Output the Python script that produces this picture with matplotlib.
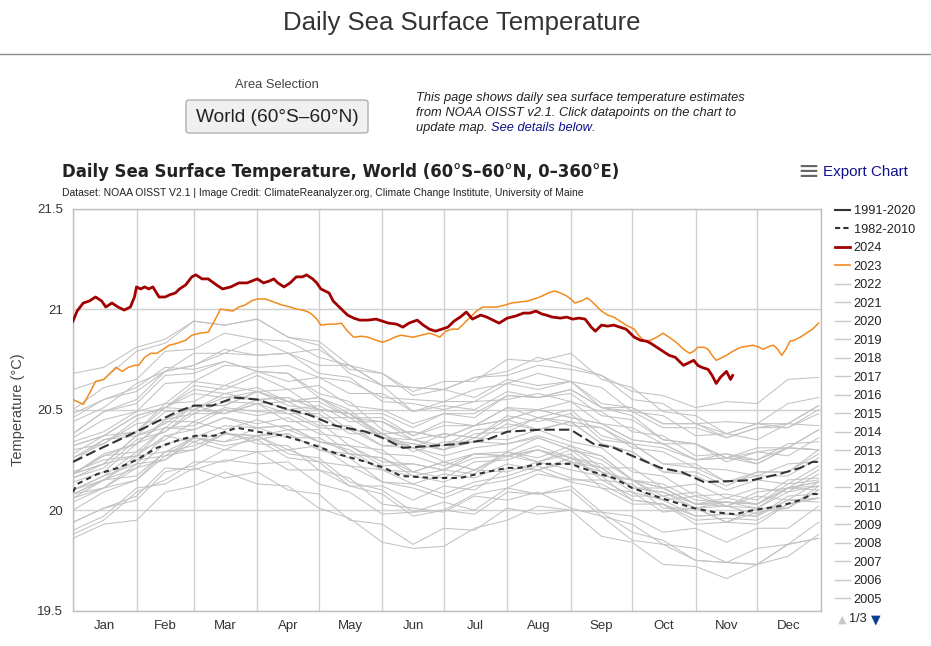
import numpy as np
import matplotlib
matplotlib.use("Agg")
import matplotlib.pyplot as plt
from matplotlib.lines import Line2D
from matplotlib.patches import FancyBboxPatch

plt.rcParams["font.family"] = ["Liberation Sans", "DejaVu Sans"]

W, H = 931, 646

# ---- data (degC) ----
month_names = ["Jan", "Feb", "Mar", "Apr", "May", "Jun",
               "Jul", "Aug", "Sep", "Oct", "Nov", "Dec"]
month_starts = [0, 31, 59, 90, 120, 151, 181, 212, 243, 273, 304, 334, 365]

days_9120 = [0, 12, 31, 51, 59, 68, 79, 90, 102, 115, 128, 143, 151, 161, 176, 189,
             202, 212, 228, 243, 254, 264, 273, 287, 297, 308, 323, 332, 345, 355, 361, 364]
clim_9120 = [20.24, 20.30, 20.39, 20.49, 20.52, 20.52, 20.56, 20.55, 20.51, 20.475, 20.42,
             20.39, 20.36, 20.31, 20.32, 20.33, 20.35, 20.39, 20.40, 20.40, 20.33, 20.31,
             20.27, 20.21, 20.19, 20.14, 20.145, 20.15, 20.18, 20.21, 20.24, 20.24]

days_8210 = [0, 2, 12, 22, 31, 41, 52, 60, 69, 80, 90, 103, 116, 129, 143, 152, 160, 176, 189,
             202, 212, 218, 228, 243, 254, 264, 273, 287, 303, 313, 323, 332, 345, 355, 361, 364]
clim_8210 = [20.09, 20.13, 20.18, 20.21, 20.25, 20.31, 20.35, 20.37, 20.37, 20.41, 20.39,
             20.37, 20.33, 20.28, 20.24, 20.21, 20.17, 20.16, 20.16, 20.19, 20.21, 20.21,
             20.23, 20.23, 20.19, 20.16, 20.11, 20.06, 20.01, 19.99, 19.98, 20.00, 20.02,
             20.05, 20.08, 20.08]

days_2024 = [0, 2, 5, 8, 11, 14, 16, 19, 22, 25, 28, 30, 31, 33, 35, 37, 39, 42, 45, 47, 50,
             52, 55, 58, 60, 63, 66, 70, 73, 77, 81, 85, 90, 93, 96, 98, 100, 103, 106, 109,
             112, 114, 117, 119, 121, 125, 127, 130, 134, 137, 140, 144, 148, 151, 154, 158,
             161, 164, 168, 171, 174, 177, 180, 183, 186, 189, 192, 195, 199, 202, 205, 208,
             212, 216, 220, 223, 226, 229, 231, 234, 238, 241, 244, 247, 250, 253, 255, 258,
             261, 264, 267, 270, 274, 277, 280, 282, 285, 288, 291, 294, 296, 298, 300, 303,
             305, 307, 310, 312, 314, 316, 319, 321, 322]
sst_2024 = [20.94, 20.99, 21.03, 21.04, 21.06, 21.04, 21.01, 21.03, 21.01, 20.995, 21.01,
            21.06, 21.11, 21.10, 21.11, 21.10, 21.11, 21.06, 21.06, 21.07, 21.08, 21.10,
            21.12, 21.16, 21.17, 21.15, 21.15, 21.12, 21.10, 21.11, 21.13, 21.13, 21.15,
            21.13, 21.14, 21.15, 21.13, 21.11, 21.13, 21.16, 21.16, 21.17, 21.15, 21.13,
            21.10, 21.08, 21.04, 21.01, 20.97, 20.955, 20.945, 20.945, 20.95, 20.94, 20.93,
            20.925, 20.91, 20.93, 20.945, 20.92, 20.90, 20.89, 20.90, 20.91, 20.94, 20.96,
            20.985, 20.95, 20.97, 20.96, 20.945, 20.93, 20.955, 20.965, 20.98, 20.98, 20.99,
            20.975, 20.97, 20.96, 20.955, 20.96, 20.95, 20.955, 20.95, 20.91, 20.89, 20.92,
            20.915, 20.92, 20.91, 20.90, 20.86, 20.845, 20.84, 20.83, 20.81, 20.79, 20.77,
            20.76, 20.74, 20.72, 20.73, 20.745, 20.72, 20.71, 20.70, 20.67, 20.63, 20.66,
            20.69, 20.65, 20.67]

days_2023 = [0, 3, 5, 8, 11, 15, 18, 21, 24, 27, 30, 32, 35, 38, 41, 44, 47, 51, 55, 58, 62,
             66, 69, 72, 75, 78, 81, 84, 87, 90, 94, 98, 102, 106, 109, 112, 115, 117, 119, 121,
             125, 128, 131, 134, 137, 141, 144, 148, 151, 154, 157, 160, 163, 166, 170, 174,
             177, 179, 182, 185, 188, 191, 194, 197, 200, 204, 207, 211, 214, 218, 222, 225,
             228, 232, 235, 238, 241, 243, 245, 248, 251, 253, 256, 258, 261, 264, 267, 270,
             274, 276, 279, 282, 285, 288, 291, 295, 298, 301, 303, 305, 308, 310, 312, 314,
             317, 319, 322, 326, 329, 332, 335, 337, 340, 342, 344, 346, 348, 350, 352, 355,
             358, 361, 364]
sst_2023 = [20.55, 20.535, 20.526, 20.58, 20.64, 20.65, 20.68, 20.71, 20.69, 20.71, 20.72,
            20.72, 20.76, 20.78, 20.78, 20.80, 20.82, 20.83, 20.845, 20.87, 20.88, 20.885,
            20.94, 21.00, 20.995, 20.99, 21.01, 21.02, 21.04, 21.05, 21.05, 21.035, 21.02,
            21.01, 21.00, 20.995, 20.985, 20.97, 20.95, 20.92, 20.925, 20.925, 20.93, 20.89,
            20.86, 20.865, 20.86, 20.845, 20.835, 20.845, 20.86, 20.87, 20.865, 20.86, 20.87,
            20.88, 20.87, 20.86, 20.89, 20.90, 20.90, 20.93, 20.96, 20.99, 21.01, 21.01,
            21.01, 21.02, 21.03, 21.035, 21.04, 21.05, 21.06, 21.08, 21.09, 21.08, 21.065,
            21.05, 21.03, 21.04, 21.055, 21.04, 21.01, 20.99, 20.97, 20.96, 20.94, 20.92,
            20.90, 20.87, 20.84, 20.845, 20.86, 20.88, 20.86, 20.83, 20.80, 20.78, 20.79,
            20.81, 20.81, 20.80, 20.77, 20.745, 20.76, 20.77, 20.79, 20.81, 20.815, 20.82,
            20.81, 20.80, 20.815, 20.82, 20.80, 20.77, 20.80, 20.84, 20.845, 20.86, 20.88,
            20.90, 20.93]

# older years, sampled about every half month
grey_days = [0, 15, 31, 45, 59, 74, 90, 105, 120, 135, 151, 166, 181, 196, 212, 227,
             243, 258, 273, 288, 304, 319, 334, 349, 364]
sst_1982 = [19.94, 20.01, 20.07, 20.21, 20.20, 20.25, 20.23, 20.24, 20.13, 20.09, 19.98, 19.99, 20.00, 20.08, 20.11, 20.18, 20.15, 20.15, 20.07, 20.07, 20.01, 20.04, 20.03, 20.13, 20.15]
sst_1983 = [20.19, 20.25, 20.27, 20.37, 20.34, 20.39, 20.33, 20.32, 20.20, 20.16, 20.03, 20.01, 19.99, 20.07, 20.05, 20.09, 20.01, 19.97, 19.85, 19.83, 19.75, 19.74, 19.73, 19.83, 19.86]
sst_1984 = [19.90, 19.97, 20.11, 20.13, 20.21, 20.16, 20.19, 20.10, 20.08, 19.95, 19.93, 19.83, 19.91, 19.90, 20.01, 19.98, 20.00, 19.87, 19.84, 19.73, 19.72, 19.66, 19.73, 19.77, 19.88]
sst_1985 = [19.86, 19.93, 19.95, 20.09, 20.12, 20.19, 20.13, 20.12, 20.01, 19.96, 19.84, 19.81, 19.82, 19.91, 19.95, 20.02, 20.00, 19.99, 19.89, 19.85, 19.75, 19.74, 19.73, 19.83, 19.86]
sst_1986 = [19.88, 19.95, 20.09, 20.15, 20.24, 20.24, 20.29, 20.20, 20.20, 20.12, 20.12, 20.05, 20.12, 20.10, 20.21, 20.20, 20.26, 20.17, 20.15, 20.07, 20.09, 20.02, 20.09, 20.11, 20.20]
sst_1987 = [20.18, 20.28, 20.33, 20.44, 20.44, 20.51, 20.49, 20.48, 20.41, 20.40, 20.32, 20.31, 20.27, 20.31, 20.33, 20.37, 20.32, 20.27, 20.15, 20.11, 20.03, 20.02, 19.98, 20.05, 20.04]
sst_1988 = [20.08, 20.15, 20.27, 20.29, 20.36, 20.34, 20.37, 20.28, 20.26, 20.14, 20.10, 19.99, 20.04, 20.00, 20.11, 20.08, 20.10, 19.97, 19.93, 19.83, 19.81, 19.74, 19.81, 19.83, 19.94]
sst_1989 = [19.94, 20.01, 20.05, 20.19, 20.22, 20.30, 20.29, 20.30, 20.24, 20.22, 20.14, 20.13, 20.08, 20.14, 20.17, 20.22, 20.16, 20.13, 20.05, 20.03, 19.93, 19.94, 19.93, 20.03, 20.06]
sst_1990 = [20.10, 20.17, 20.29, 20.35, 20.44, 20.40, 20.45, 20.40, 20.40, 20.28, 20.26, 20.19, 20.24, 20.20, 20.27, 20.24, 20.30, 20.19, 20.15, 20.05, 20.07, 20.02, 20.07, 20.05, 20.14]
sst_1991 = [20.10, 20.17, 20.23, 20.37, 20.40, 20.46, 20.43, 20.46, 20.38, 20.36, 20.28, 20.27, 20.22, 20.28, 20.27, 20.30, 20.24, 20.21, 20.11, 20.11, 20.03, 20.06, 20.03, 20.11, 20.10]
sst_1992 = [20.10, 20.15, 20.25, 20.27, 20.36, 20.32, 20.35, 20.26, 20.24, 20.12, 20.08, 19.97, 20.00, 19.98, 20.09, 20.08, 20.12, 19.99, 19.97, 19.89, 19.91, 19.84, 19.91, 19.91, 20.02]
sst_1993 = [20.00, 20.09, 20.15, 20.27, 20.30, 20.38, 20.37, 20.38, 20.30, 20.26, 20.14, 20.11, 20.06, 20.12, 20.15, 20.20, 20.14, 20.11, 20.03, 20.03, 19.97, 19.98, 19.97, 20.07, 20.08]
sst_1994 = [20.06, 20.11, 20.21, 20.25, 20.36, 20.34, 20.41, 20.36, 20.36, 20.28, 20.26, 20.17, 20.20, 20.18, 20.29, 20.26, 20.32, 20.21, 20.21, 20.11, 20.13, 20.06, 20.11, 20.09, 20.18]
sst_1995 = [20.18, 20.27, 20.29, 20.41, 20.40, 20.46, 20.41, 20.42, 20.34, 20.30, 20.20, 20.17, 20.14, 20.20, 20.19, 20.24, 20.20, 20.17, 20.05, 20.03, 19.95, 19.96, 19.95, 20.03, 20.06]
sst_1996 = [20.04, 20.11, 20.15, 20.29, 20.30, 20.38, 20.35, 20.38, 20.30, 20.28, 20.20, 20.19, 20.16, 20.24, 20.25, 20.30, 20.26, 20.21, 20.11, 20.09, 20.03, 20.04, 20.03, 20.11, 20.14]
sst_1997 = [20.18, 20.23, 20.37, 20.43, 20.52, 20.52, 20.59, 20.54, 20.56, 20.48, 20.48, 20.41, 20.48, 20.46, 20.57, 20.56, 20.60, 20.51, 20.51, 20.43, 20.43, 20.38, 20.43, 20.41, 20.48]
sst_1998 = [20.46, 20.55, 20.61, 20.71, 20.70, 20.74, 20.69, 20.68, 20.56, 20.50, 20.36, 20.31, 20.24, 20.28, 20.27, 20.30, 20.24, 20.19, 20.09, 20.05, 19.97, 19.98, 19.97, 20.05, 20.06]
sst_1999 = [20.08, 20.11, 20.23, 20.25, 20.34, 20.30, 20.37, 20.30, 20.32, 20.22, 20.20, 20.13, 20.18, 20.16, 20.23, 20.20, 20.24, 20.11, 20.09, 19.99, 20.01, 19.94, 19.99, 20.01, 20.10]
sst_2000 = [20.06, 20.15, 20.21, 20.33, 20.36, 20.42, 20.41, 20.42, 20.34, 20.32, 20.22, 20.23, 20.20, 20.26, 20.27, 20.32, 20.26, 20.23, 20.11, 20.09, 20.01, 20.02, 20.01, 20.11, 20.12]
sst_2001 = [20.14, 20.19, 20.33, 20.39, 20.48, 20.48, 20.53, 20.48, 20.48, 20.38, 20.38, 20.29, 20.34, 20.34, 20.43, 20.40, 20.44, 20.33, 20.29, 20.19, 20.19, 20.12, 20.19, 20.19, 20.30]
sst_2002 = [20.28, 20.37, 20.39, 20.51, 20.50, 20.56, 20.55, 20.56, 20.50, 20.48, 20.38, 20.39, 20.36, 20.42, 20.45, 20.50, 20.46, 20.43, 20.35, 20.33, 20.25, 20.28, 20.25, 20.31, 20.30]
sst_2003 = [20.32, 20.37, 20.47, 20.51, 20.58, 20.56, 20.59, 20.52, 20.50, 20.40, 20.38, 20.31, 20.38, 20.36, 20.47, 20.44, 20.48, 20.35, 20.33, 20.23, 20.23, 20.14, 20.19, 20.19, 20.28]
sst_2004 = [20.26, 20.35, 20.37, 20.49, 20.50, 20.58, 20.55, 20.56, 20.50, 20.48, 20.36, 20.33, 20.30, 20.38, 20.39, 20.46, 20.42, 20.41, 20.31, 20.29, 20.21, 20.20, 20.17, 20.23, 20.24]
sst_2005 = [20.26, 20.33, 20.45, 20.51, 20.60, 20.58, 20.61, 20.54, 20.54, 20.46, 20.44, 20.35, 20.38, 20.36, 20.45, 20.40, 20.44, 20.33, 20.29, 20.19, 20.17, 20.10, 20.15, 20.13, 20.22]
sst_2006 = [20.18, 20.27, 20.33, 20.45, 20.48, 20.54, 20.53, 20.54, 20.46, 20.46, 20.36, 20.35, 20.32, 20.40, 20.41, 20.46, 20.44, 20.41, 20.33, 20.31, 20.25, 20.26, 20.23, 20.31, 20.30]
sst_2007 = [20.30, 20.33, 20.43, 20.45, 20.52, 20.48, 20.53, 20.44, 20.44, 20.32, 20.30, 20.19, 20.24, 20.20, 20.29, 20.24, 20.28, 20.15, 20.13, 20.01, 20.01, 19.94, 20.01, 20.01, 20.12]
sst_2008 = [20.08, 20.15, 20.17, 20.29, 20.32, 20.38, 20.37, 20.40, 20.34, 20.32, 20.24, 20.23, 20.20, 20.28, 20.29, 20.36, 20.30, 20.27, 20.15, 20.13, 20.05, 20.04, 20.01, 20.09, 20.12]
sst_2009 = [20.16, 20.21, 20.35, 20.39, 20.50, 20.48, 20.55, 20.50, 20.52, 20.44, 20.44, 20.37, 20.44, 20.42, 20.51, 20.50, 20.54, 20.43, 20.41, 20.33, 20.33, 20.26, 20.31, 20.31, 20.40]
sst_2010 = [20.38, 20.49, 20.53, 20.67, 20.68, 20.74, 20.69, 20.68, 20.58, 20.54, 20.40, 20.35, 20.30, 20.34, 20.33, 20.36, 20.30, 20.25, 20.15, 20.11, 20.03, 20.04, 20.03, 20.11, 20.14]
sst_2011 = [20.16, 20.23, 20.27, 20.41, 20.42, 20.50, 20.47, 20.50, 20.42, 20.42, 20.32, 20.33, 20.30, 20.36, 20.35, 20.40, 20.34, 20.31, 20.19, 20.17, 20.07, 20.08, 20.05, 20.15, 20.16]
sst_2012 = [20.18, 20.23, 20.37, 20.41, 20.52, 20.52, 20.59, 20.54, 20.56, 20.46, 20.46, 20.37, 20.42, 20.42, 20.51, 20.46, 20.50, 20.37, 20.33, 20.23, 20.21, 20.14, 20.17, 20.17, 20.26]
sst_2013 = [20.24, 20.35, 20.39, 20.53, 20.54, 20.62, 20.59, 20.60, 20.50, 20.48, 20.38, 20.39, 20.36, 20.42, 20.45, 20.50, 20.46, 20.43, 20.35, 20.33, 20.25, 20.26, 20.25, 20.33, 20.34]
sst_2014 = [20.34, 20.39, 20.49, 20.53, 20.64, 20.62, 20.69, 20.64, 20.66, 20.58, 20.58, 20.49, 20.54, 20.54, 20.63, 20.60, 20.64, 20.53, 20.51, 20.43, 20.43, 20.36, 20.41, 20.43, 20.52]
sst_2015 = [20.48, 20.55, 20.59, 20.69, 20.72, 20.78, 20.77, 20.78, 20.72, 20.72, 20.62, 20.61, 20.60, 20.66, 20.67, 20.72, 20.70, 20.67, 20.59, 20.57, 20.51, 20.54, 20.53, 20.65, 20.66]
sst_2016 = [20.68, 20.71, 20.81, 20.85, 20.94, 20.92, 20.95, 20.86, 20.82, 20.68, 20.62, 20.49, 20.52, 20.50, 20.59, 20.56, 20.58, 20.47, 20.45, 20.35, 20.33, 20.26, 20.29, 20.31, 20.40]
sst_2017 = [20.38, 20.49, 20.55, 20.69, 20.72, 20.80, 20.77, 20.78, 20.68, 20.66, 20.54, 20.53, 20.50, 20.54, 20.55, 20.58, 20.54, 20.49, 20.39, 20.37, 20.27, 20.28, 20.23, 20.31, 20.30]
sst_2018 = [20.32, 20.37, 20.47, 20.51, 20.62, 20.60, 20.67, 20.60, 20.62, 20.52, 20.50, 20.43, 20.48, 20.48, 20.57, 20.56, 20.60, 20.51, 20.49, 20.41, 20.41, 20.36, 20.41, 20.41, 20.50]
sst_2019 = [20.50, 20.61, 20.65, 20.79, 20.80, 20.88, 20.85, 20.84, 20.76, 20.72, 20.62, 20.61, 20.60, 20.66, 20.69, 20.76, 20.72, 20.67, 20.55, 20.53, 20.43, 20.44, 20.43, 20.53, 20.56]
sst_2020 = [20.60, 20.65, 20.79, 20.83, 20.94, 20.92, 20.95, 20.86, 20.84, 20.72, 20.68, 20.57, 20.60, 20.56, 20.65, 20.62, 20.64, 20.51, 20.47, 20.35, 20.33, 20.24, 20.29, 20.27, 20.36]
sst_2021 = [20.36, 20.45, 20.49, 20.63, 20.64, 20.72, 20.71, 20.72, 20.66, 20.64, 20.56, 20.55, 20.54, 20.60, 20.63, 20.68, 20.64, 20.61, 20.49, 20.47, 20.37, 20.38, 20.35, 20.43, 20.42]
sst_2022 = [20.44, 20.51, 20.63, 20.69, 20.78, 20.78, 20.85, 20.78, 20.80, 20.70, 20.68, 20.59, 20.64, 20.64, 20.75, 20.74, 20.78, 20.65, 20.61, 20.49, 20.47, 20.38, 20.43, 20.43, 20.52]

grey_series = [
    (1982, sst_1982), (1983, sst_1983), (1984, sst_1984), (1985, sst_1985),
    (1986, sst_1986), (1987, sst_1987), (1988, sst_1988), (1989, sst_1989),
    (1990, sst_1990), (1991, sst_1991), (1992, sst_1992), (1993, sst_1993),
    (1994, sst_1994), (1995, sst_1995), (1996, sst_1996), (1997, sst_1997),
    (1998, sst_1998), (1999, sst_1999), (2000, sst_2000), (2001, sst_2001),
    (2002, sst_2002), (2003, sst_2003), (2004, sst_2004), (2005, sst_2005),
    (2006, sst_2006), (2007, sst_2007), (2008, sst_2008), (2009, sst_2009),
    (2010, sst_2010), (2011, sst_2011), (2012, sst_2012), (2013, sst_2013),
    (2014, sst_2014), (2015, sst_2015), (2016, sst_2016), (2017, sst_2017),
    (2018, sst_2018), (2019, sst_2019), (2020, sst_2020), (2021, sst_2021),
    (2022, sst_2022),
]
ytick_vals = [19.5, 20, 20.5, 21, 21.5]
ytick_labels = ["19.5", "20", "20.5", "21", "21.5"]


def fx(px):
    return px / W


def fy(py):
    return 1 - py / H


fig = plt.figure(figsize=(W / 100, H / 100), dpi=100)
fig.patch.set_facecolor("white")

# ---- page header ----
fig.text(fx(462), fy(23), "Daily Sea Surface Temperature", ha="center", va="center",
         fontsize=18.5, color="#333333")
fig.add_artist(Line2D([0, 1], [fy(54), fy(54)], transform=fig.transFigure,
                      color="#8a8a8a", lw=1.0))
fig.text(fx(277), fy(85), "Area Selection", ha="center", va="center",
         fontsize=9.3, color="#444444")
btn = FancyBboxPatch((fx(186), fy(133)), fx(182), 33 / H, transform=fig.transFigure,
                     boxstyle="round,pad=0,rounding_size=0.004",
                     facecolor="#f0f0f0", edgecolor="#b0b0b0", lw=1.0)
fig.add_artist(btn)
fig.text(fx(277), fy(117), "World (60°S–60°N)", ha="center", va="center",
         fontsize=13.8, color="#222222")

para_kw = dict(ha="left", va="center", fontsize=9.25, style="italic", color="#222222")
fig.text(fx(416), fy(98), "This page shows daily sea surface temperature estimates", **para_kw)
fig.text(fx(416), fy(113), "from NOAA OISST v2.1. Click datapoints on the chart to", **para_kw)
t_upd = fig.text(fx(416), fy(128), "update map.", **para_kw)

# ---- chart title / credits ----
fig.text(fx(62), fy(172), "Daily Sea Surface Temperature, World (60°S–60°N, 0–360°E)",
         ha="left", va="center", fontsize=11.9, fontweight="bold", color="#222222",
         family=["DejaVu Sans"])
fig.text(fx(62), fy(193), "Dataset: NOAA OISST V2.1 | Image Credit: ClimateReanalyzer.org, "
         "Climate Change Institute, University of Maine",
         ha="left", va="center", fontsize=7.5, color="#222222")
fig.text(fx(808), fy(172), "≡", ha="center", va="center", fontsize=19, color="#666666",
         family=["DejaVu Sans"])
fig.text(fx(823), fy(172), "Export Chart", ha="left", va="center", fontsize=10.9,
         color="#11118a")

# ---- main axes ----
ax = fig.add_axes([fx(73), fy(610.7), (820.7 - 73) / W, (610.7 - 208.5) / H])

for year, vals in grey_series:
    ax.plot(grey_days, vals, color="#c2c2c2", lw=0.75, zorder=2, label=str(year))

l_9120, = ax.plot(days_9120, clim_9120, color="#333333", lw=1.5, dashes=(5, 2), zorder=4)
l_8210, = ax.plot(days_8210, clim_8210, color="#333333", lw=1.5, dashes=(2.6, 2), zorder=4)
l_2023, = ax.plot(days_2023, sst_2023, color="#f28a1e", lw=1.1, zorder=5)
l_2024, = ax.plot(days_2024, sst_2024, color="#a00000", lw=2.0, zorder=6)

ax.set_xlim(0, 365)
ax.set_ylim(19.5, 21.5)
ax.set_yticks(ytick_vals)
ax.set_yticklabels(ytick_labels)
ax.set_xticks(month_starts)
ax.set_xticklabels([])
mids = [(a + b) / 2 for a, b in zip(month_starts[:-1], month_starts[1:])]
ax.set_xticks(mids, minor=True)
ax.set_xticklabels(month_names, minor=True)
ax.tick_params(axis="both", which="both", length=0, labelsize=9.5, labelcolor="#333333")
ax.tick_params(axis="x", which="minor", pad=7)
ax.tick_params(axis="y", pad=7)
ax.grid(True, which="major", color="#d0d0d0", lw=1.0, zorder=0)
for sp in ax.spines.values():
    sp.set_color("#bfbfbf")
    sp.set_linewidth(1.0)

fig.text(fx(18), fy(410), "Temperature (°C)", rotation=90, ha="center", va="center",
         fontsize=10.5, color="#444444")

# ---- legend ----
grey_handles = [Line2D([], [], color="#c8c8c8", lw=1.0) for _ in range(2022, 2004, -1)]
handles = [Line2D([], [], color="#333333", lw=1.5),
           Line2D([], [], color="#333333", lw=1.5, dashes=(2.5, 1.5)),
           Line2D([], [], color="#a00000", lw=2.0),
           Line2D([], [], color="#f28a1e", lw=1.2)] + grey_handles
labels = ["1991-2020", "1982-2010", "2024", "2023"] + [str(y) for y in range(2022, 2004, -1)]
fig.legend(handles, labels, loc="upper left", bbox_to_anchor=(fx(835), fy(205)),
           bbox_transform=fig.transFigure, frameon=False, fontsize=9.2,
           handlelength=1.15, handletextpad=0.3, labelspacing=0.51,
           borderpad=0, borderaxespad=0, labelcolor="#222222")

fig.text(fx(842), fy(620), "▲", ha="center", va="center", fontsize=8, color="#c8c8c8",
         family=["DejaVu Sans"])
fig.text(fx(849), fy(619), "1/3", ha="left", va="center", fontsize=9.2, color="#222222")
fig.text(fx(876), fy(620), "▼", ha="center", va="center", fontsize=9, color="#0b3d91",
         family=["DejaVu Sans"])

# blue link continues the last paragraph line
fig.canvas.draw()
bb = t_upd.get_window_extent()
x_link = (bb.x1 + 3.5) / W
t_link = fig.text(x_link, fy(128), "See details below", ha="left", va="center",
                  fontsize=9.25, style="italic", color="#10108a")
fig.canvas.draw()
bb2 = t_link.get_window_extent()
fig.text(bb2.x1 / W, fy(128), ".", ha="left", va="center", fontsize=9.25,
         style="italic", color="#222222")

fig.savefig("out.png", dpi=100)
